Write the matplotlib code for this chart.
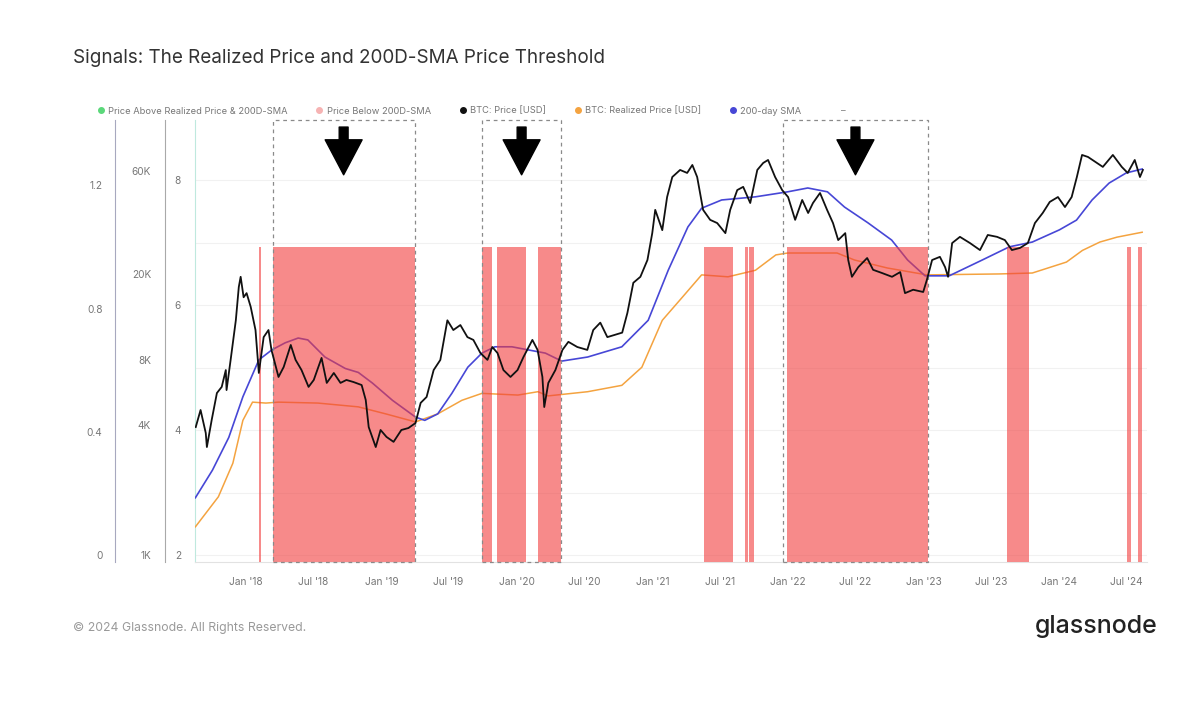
import matplotlib
matplotlib.use("Agg")
import matplotlib.pyplot as plt
import matplotlib.dates as mdates
import matplotlib.transforms as mtransforms
from matplotlib.lines import Line2D
from matplotlib.patches import Rectangle
from matplotlib.ticker import FixedLocator, NullLocator, FixedFormatter
import pandas as pd

plt.rcParams['font.family'] = ['Inter', 'DejaVu Sans']

# --- data ---
price_dates = ['2017-08-19', '2017-09-01', '2017-09-15', '2017-09-18', '2017-10-01', '2017-10-15',
               '2017-10-28', '2017-11-08', '2017-11-10', '2017-11-21', '2017-12-05', '2017-12-13',
               '2017-12-18', '2017-12-26', '2018-01-03', '2018-01-14', '2018-01-27', '2018-02-05',
               '2018-02-18', '2018-03-03', '2018-03-11', '2018-03-30', '2018-04-13', '2018-05-02',
               '2018-05-15', '2018-05-31', '2018-06-19', '2018-07-03', '2018-07-24', '2018-08-07',
               '2018-08-26', '2018-09-13', '2018-09-29', '2018-10-18', '2018-11-09', '2018-11-20',
               '2018-11-28', '2018-12-17', '2018-12-30', '2019-01-15', '2019-02-03', '2019-02-24',
               '2019-03-15', '2019-04-03', '2019-04-17', '2019-05-03', '2019-05-22', '2019-06-09',
               '2019-06-28', '2019-07-14', '2019-08-02', '2019-08-21', '2019-09-06', '2019-09-25',
               '2019-10-14', '2019-10-27', '2019-11-10', '2019-11-26', '2019-12-15', '2020-01-03',
               '2020-01-19', '2020-02-12', '2020-02-26', '2020-03-10', '2020-03-15', '2020-03-26',
               '2020-04-14', '2020-05-03', '2020-05-19', '2020-06-12', '2020-07-09', '2020-07-25',
               '2020-08-13', '2020-09-01', '2020-09-17', '2020-10-11', '2020-10-25', '2020-11-10',
               '2020-11-29', '2020-12-18', '2020-12-31', '2021-01-08', '2021-01-27', '2021-02-09',
               '2021-02-23', '2021-03-16', '2021-04-04', '2021-04-18', '2021-05-01', '2021-05-17',
               '2021-06-05', '2021-06-24', '2021-07-16', '2021-07-29', '2021-08-17', '2021-09-02',
               '2021-09-21', '2021-10-10', '2021-10-26', '2021-11-08', '2021-11-27', '2021-12-16',
               '2022-01-01', '2022-01-20', '2022-02-08', '2022-02-24', '2022-03-09', '2022-03-28',
               '2022-04-16', '2022-05-02', '2022-05-16', '2022-06-04', '2022-06-12', '2022-06-22',
               '2022-07-09', '2022-08-02', '2022-08-18', '2022-09-11', '2022-10-08', '2022-10-30',
               '2022-11-12', '2022-12-04', '2022-12-31', '2023-01-10', '2023-01-24', '2023-02-14',
               '2023-02-28', '2023-03-08', '2023-03-19', '2023-04-09', '2023-05-06', '2023-06-02',
               '2023-06-23', '2023-07-18', '2023-08-08', '2023-08-27', '2023-09-18', '2023-10-09',
               '2023-10-28', '2023-11-18', '2023-12-07', '2023-12-29', '2024-01-17', '2024-02-04',
               '2024-02-18', '2024-03-03', '2024-03-19', '2024-04-12', '2024-04-28', '2024-05-25',
               '2024-06-18', '2024-07-04', '2024-07-23', '2024-08-06', '2024-08-14']
price_usd = [3910, 4690, 3670, 3160, 4220, 5620,
             6000, 7180, 5800, 8000, 12200, 17400,
             19400, 15600, 16300, 14100, 11000, 6960,
             10200, 11000, 8900, 6670, 7420, 9380,
             8000, 7180, 6000, 6460, 8170, 6260,
             6960, 6260, 6460, 6320, 6120, 5220,
             3910, 3160, 3790, 3520, 3340, 3790,
             3870, 4080, 5060, 5390, 7180, 8000,
             12200, 11000, 11600, 10200, 9900, 8610,
             8000, 9180, 8610, 7180, 6670, 7180,
             8250, 9900, 8900, 6670, 4840, 6260,
             7180, 8900, 9700, 9180, 8900, 11000,
             11900, 10200, 10400, 10700, 13200, 18200,
             19400, 23200, 30900, 39600, 31900, 45400,
             56200, 60600, 58700, 63900, 56200, 39600,
             35600, 34400, 30900, 39600, 48900, 50600,
             42600, 60600, 65300, 67400, 56200, 48900,
             45400, 35600, 44000, 38300, 42600, 47400,
             39600, 34400, 28700, 30900, 23200, 19400,
             21500, 23700, 20900, 20200, 19400, 20400,
             16300, 16900, 16500, 18800, 23200, 24000,
             21500, 19400, 27800, 29700, 27800, 25800,
             30300, 29700, 28700, 25800, 26400, 27800,
             34400, 38300, 43100, 45400, 40800, 45400,
             56200, 71100, 69600, 65300, 62600, 71100,
             62600, 58700, 67400, 56200, 60600]

sma_dates = ['2017-08-18', '2017-10-03', '2017-11-16', '2017-12-24', '2018-02-05', '2018-03-12',
             '2018-04-17', '2018-05-22', '2018-06-17', '2018-08-02', '2018-09-26', '2018-10-31',
             '2018-12-08', '2019-01-31', '2019-04-03', '2019-04-28', '2019-06-02', '2019-07-10',
             '2019-08-22', '2019-09-29', '2019-11-03', '2019-12-19', '2020-02-01', '2020-03-18',
             '2020-05-01', '2020-07-10', '2020-10-10', '2020-12-20', '2021-02-12', '2021-04-06',
             '2021-05-13', '2021-07-06', '2021-10-05', '2021-12-31', '2022-02-23', '2022-04-17',
             '2022-06-02', '2022-08-04', '2022-10-07', '2022-11-19', '2023-01-05', '2023-03-11',
             '2023-06-08', '2023-08-20', '2023-10-21', '2024-01-02', '2024-02-17', '2024-03-30',
             '2024-05-15', '2024-06-30', '2024-08-12']
sma_usd = [1840, 2470, 3500, 5400, 8000, 8900,
           9600, 10100, 9900, 8250, 7300, 7000,
           6250, 5200, 4350, 4200, 4500, 5600,
           7400, 8600, 9200, 9200, 8900, 8600,
           7900, 8250, 9200, 12200, 20800, 33000,
           40300, 44000, 45500, 48000, 50000, 48000,
           40800, 34500, 28700, 23200, 19600, 19600,
           23200, 26700, 28100, 32000, 35500, 44000,
           52700, 58700, 61200]

realized_dates = ['2017-08-18', '2017-09-15', '2017-10-19', '2017-11-27', '2017-12-24', '2018-01-19',
                  '2018-02-24', '2018-03-30', '2018-07-14', '2018-10-31', '2019-01-13', '2019-04-03',
                  '2019-06-02', '2019-08-06', '2019-09-29', '2020-01-04', '2020-02-27', '2020-03-25',
                  '2020-07-10', '2020-10-10', '2020-12-03', '2021-01-27', '2021-03-22', '2021-05-13',
                  '2021-07-23', '2021-10-05', '2021-11-29', '2021-12-31', '2022-05-13', '2022-06-29',
                  '2022-09-26', '2023-01-10', '2023-07-24', '2023-10-21', '2024-01-21', '2024-03-04',
                  '2024-04-20', '2024-06-05', '2024-08-12']
realized_usd = [1350, 1560, 1860, 2660, 4200, 5100,
                5050, 5100, 5050, 4850, 4500, 4130,
                4500, 5200, 5600, 5500, 5700, 5450,
                5700, 6100, 7400, 12200, 15600, 19800,
                19400, 20800, 24500, 25000, 25000, 23200,
                21300, 19800, 20000, 20200, 22700, 25700,
                28100, 29600, 31200]

# periods where price sat below the 200D-SMA (signal = 1)
below_start = ['2018-02-06', '2018-03-14', '2019-09-29', '2019-11-08', '2020-02-27', '2021-05-20',
               '2021-09-08', '2021-09-18', '2021-12-30', '2023-08-15', '2024-07-03', '2024-07-31']
below_end = ['2018-02-10', '2019-04-01', '2019-10-26', '2020-01-26', '2020-04-30', '2021-08-06',
             '2021-09-16', '2021-10-02', '2023-01-13', '2023-10-13', '2024-07-13', '2024-08-12']
below_signal = [1] * len(below_start)

# highlighted bear phases (dashed boxes with arrows)
box_start = ['2018-03-14', '2019-09-29', '2021-12-18']
box_end = ['2019-04-01', '2020-04-30', '2023-01-13']

x_ticks = pd.date_range('2018-01-01', '2024-07-01', freq='6MS')
price_ticks = [1000, 4000, 8000, 20000, 60000]
price_labels = ['1K', '4K', '8K', '20K', '60K']
signal_ticks = [0, 0.4, 0.8, 1.2]
signal_labels = ['0', '0.4', '0.8', '1.2']
third_ticks = [2, 4, 6, 8]

# --- layout (pixels of a 1200x728 canvas) ---
W, H = 1200, 728
L, R, T, B = 195, 1147, 120, 562
fig = plt.figure(figsize=(W / 100, H / 100), dpi=100)
fig.patch.set_facecolor('white')
rect = [L / W, (H - B) / H, (R - L) / W, (B - T) / H]
axw = R - L

label_col = '#777777'
tick_font = 7.3

ax = fig.add_axes(rect)
ax.set_facecolor('white')
ax.set_ylim(1.888, 8.96)
ax.yaxis.set_major_locator(FixedLocator(third_ticks))
ax.yaxis.set_minor_locator(FixedLocator([3, 5, 7]))
ax.grid(axis='y', which='both', color='#f1f1f1', lw=0.8)
ax.set_axisbelow(True)
for s in ['top', 'right']:
    ax.spines[s].set_visible(False)
ax.spines['left'].set_color('#bfe9de')
ax.spines['bottom'].set_color('#e2e2e2')
ax.tick_params(axis='y', which='both', length=0, pad=10, labelsize=tick_font, labelcolor=label_col)
ax.tick_params(axis='x', length=0, pad=11, labelsize=tick_font, labelcolor=label_col)
ax.xaxis.set_major_locator(FixedLocator(mdates.date2num(x_ticks)))
ax.xaxis.set_major_formatter(mdates.DateFormatter("%b '%y"))
ax.set_xlim(mdates.datestr2num('2017-08-17'), mdates.datestr2num('2024-08-25'))


def left_twin(offset_px, spine_col):
    t = ax.twinx()
    for s in ['top', 'right', 'bottom']:
        t.spines[s].set_visible(False)
    t.yaxis.set_ticks_position('left')
    t.yaxis.set_label_position('left')
    t.spines['left'].set_visible(True)
    t.spines['left'].set_position(('axes', -offset_px / axw))
    t.spines['left'].set_color(spine_col)
    t.tick_params(axis='y', which='both', length=0, labelsize=tick_font, labelcolor=label_col)
    return t


# price scale: SMA + realized price (below the pink bands)
axl = left_twin(30, '#a9a9a9')
axl.set_yscale('log')
axl.set_ylim(928, 103200)
axl.yaxis.set_major_locator(FixedLocator(price_ticks))
axl.yaxis.set_major_formatter(FixedFormatter(price_labels))
axl.yaxis.set_minor_locator(NullLocator())
axl.tick_params(axis='y', pad=10)
axl.plot(pd.to_datetime(realized_dates), realized_usd, color='#f4a340', lw=1.1)
axl.plot(pd.to_datetime(sma_dates), sma_usd, color='#4747d6', lw=1.2)

# signal scale: pink bands, filled from the bottom of the plot
axs = left_twin(80, '#a7a8bf')
axs.set_ylim(-0.0227, 1.412)
axs.yaxis.set_major_locator(FixedLocator(signal_ticks))
axs.yaxis.set_major_formatter(FixedFormatter(signal_labels))
axs.tick_params(axis='y', pad=9)
bs = mdates.datestr2num(below_start)
be = mdates.datestr2num(below_end)
y0 = axs.get_ylim()[0]
axs.bar(bs, [v - y0 for v in below_signal], bottom=y0, width=be - bs, align='edge',
        color='#f23d3d', alpha=0.6, lw=0)

# top layer: BTC price, dashed boxes and arrows
axp = ax.twinx()
axp.set_yscale('log')
axp.set_ylim(axl.get_ylim())
axp.axis('off')
axp.plot(pd.to_datetime(price_dates), price_usd, color='#111111', lw=1.3)

blend = mtransforms.blended_transform_factory(axp.transData, axp.transAxes)
for s0, s1 in zip(box_start, box_end):
    x0, x1 = mdates.datestr2num(s0), mdates.datestr2num(s1)
    axp.add_patch(Rectangle((x0, 0), x1 - x0, 1, transform=blend, fill=False,
                            ec='#8a8a8a', lw=0.9, ls=(0, (3, 3)), clip_on=False))
    xc = (x0 + x1) / 2
    axp.annotate('', xy=(xc, 0.876), xytext=(xc, 0.984),
                 xycoords=('data', 'axes fraction'), textcoords=('data', 'axes fraction'),
                 arrowprops=dict(arrowstyle='simple,head_length=1.26,head_width=1.33,tail_width=0.32',
                                 color='black', shrinkA=0, shrinkB=0, mutation_scale=20))

# legend
handles = [
    Line2D([], [], ls='none', marker='o', ms=4, color='#5bd87a'),
    Line2D([], [], ls='none', marker='o', ms=4, color='#f6b3b3'),
    Line2D([], [], ls='none', marker='o', ms=4, color='#111111'),
    Line2D([], [], ls='none', marker='o', ms=4, color='#f4a340'),
    Line2D([], [], ls='none', marker='o', ms=4, color='#4747d6'),
    Line2D([], [], ls='none', marker=None, color='none'),
]
labels = ['Price Above Realized Price & 200D-SMA', 'Price Below 200D-SMA', 'BTC: Price [USD]',
          'BTC: Realized Price [USD]', '200-day SMA', '–']
fig.legend(handles, labels, loc='center left', bbox_to_anchor=(98 / W, 1 - 111 / H), ncol=6,
           frameon=False, fontsize=6.7, handlelength=0.6, handletextpad=0.5, columnspacing=3.1,
           borderpad=0, borderaxespad=0, labelcolor='#777777')

fig.text(73 / W, 1 - 58 / H, 'Signals: The Realized Price and 200D-SMA Price Threshold',
         fontsize=13.6, color='#333333', va='center', ha='left')
fig.text(73 / W, 1 - 628 / H, '© 2024 Glassnode. All Rights Reserved.',
         fontsize=8.8, color='#9a9a9a', va='center', ha='left')
fig.text(1158 / W, 1 - 627 / H, 'glassnode', fontsize=18, color='#222222',
         va='center', ha='right', fontweight='medium')

fig.savefig('out.png', dpi=100, facecolor='white')
